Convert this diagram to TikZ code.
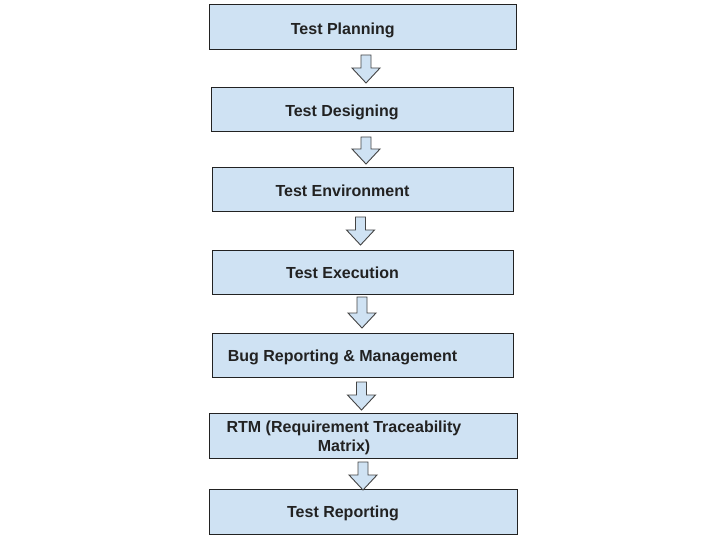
\documentclass[tikz,border=0pt]{standalone}
\usepackage{fontspec}
\setmainfont{Liberation Sans}
\usetikzlibrary{calc}
\definecolor{stagefill}{HTML}{CFE2F3}
\definecolor{stageline}{HTML}{222222}
\definecolor{arrowline}{HTML}{444444}
\definecolor{stageink}{HTML}{222222}
\begin{document}
\begin{tikzpicture}[x=1pt, y=-1pt,
  stagebox/.style={draw=stageline, fill=stagefill, line width=1pt, outer sep=0pt, inner sep=0pt},
  stagetext/.style={text=stageink, font=\fontsize{16}{19}\selectfont\bfseries, align=center, inner sep=0pt},
  blockarrow/.style={draw=arrowline, fill=stagefill, line width=0.9pt, line join=miter}]
\useasboundingbox (0,0) rectangle (720,540);
%test planning
\node[stagebox, minimum width=307.5pt, minimum height=45pt] (plan) at (362.75, 27.5) {};
\node[stagetext, anchor=base] (plantext) at ($(plan.center)+(-20,6.8)$) {Test Planning};
%test designing
\node[stagebox, minimum width=302pt, minimum height=44pt] (design) at (362, 110) {};
\node[stagetext, anchor=base] (designtext) at ($(design.center)+(-20,7)$) {Test Designing};
%test environment
\node[stagebox, minimum width=301pt, minimum height=44pt] (env) at (362.5, 190) {};
\node[stagetext, anchor=base] (envtext) at ($(env.center)+(-20,6.8)$) {Test Environment};
%test execution
\node[stagebox, minimum width=301pt, minimum height=44pt] (exec) at (362.5, 272) {};
\node[stagetext, anchor=base] (exectext) at ($(exec.center)+(-20,6.8)$) {Test Execution};
%bug reporting
\node[stagebox, minimum width=301pt, minimum height=44pt] (bug) at (362.5, 355) {};
\node[stagetext, anchor=base] (bugtext) at ($(bug.center)+(-20,6.8)$) {Bug Reporting \& Management};
%rtm
\node[stagebox, minimum width=308pt, minimum height=45pt] (rtm) at (363, 435.5) {};
\node[stagetext] (rtmtext) at ($(rtm.center)+(-19,2.5)$) {RTM (Requirement Traceability\\Matrix)};
%test reporting
\node[stagebox, minimum width=308pt, minimum height=45pt] (report) at (363, 511.5) {};
\node[stagetext, anchor=base] (reporttext) at ($(report.center)+(-20,6.3)$) {Test Reporting};
%block arrows
\foreach \from/\dx/\dy/\len in {plan/3.25/5/13, design/4/5/12, env/-2/5/13, exec/-0.5/3/16, bug/-1/5/13, rtm/0/4/13}
  \draw[blockarrow] ($(\from.south)+(\dx-5,\dy)$) -- ++(10,0) -- ++(0,\len) -- ++(9,0)
    -- ++(-14,15) -- ++(-14,-15) -- ++(9,0) -- cycle;
\end{tikzpicture}
\end{document}
